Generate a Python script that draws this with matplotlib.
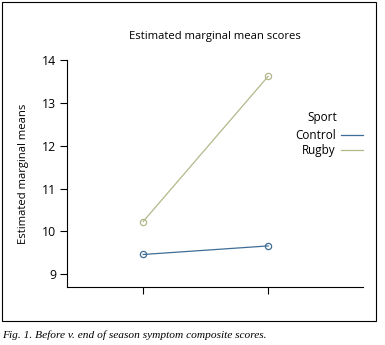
import matplotlib
matplotlib.use("Agg")
import matplotlib.pyplot as plt
from matplotlib.lines import Line2D
from matplotlib.patches import Rectangle

# data
time_points = [0, 1]  # before / end of season (no tick labels in the original)
control_means = [9.46, 9.66]
rugby_means = [10.23, 13.62]
groups = ["Control", "Rugby"]
colors = {"Control": "#3f6d97", "Rugby": "#b3b78a"}
y_ticks = [9, 10, 11, 12, 13, 14]

plt.rcParams["font.family"] = ["Open Sans", "DejaVu Sans"]

fig = plt.figure(figsize=(3.85, 3.45), dpi=100)
ax = fig.add_axes([0.174, 0.168, 0.769, 0.658])

series = {"Control": control_means, "Rugby": rugby_means}
for g in groups:
    ax.plot(time_points, series[g], color=colors[g], lw=0.9, marker="o",
            markersize=4.5, markerfacecolor="none", markeredgewidth=0.9)

ax.set_xlim(-0.61, 1.76)
ax.set_ylim(8.7, 14.0)
ax.set_yticks(y_ticks)
ax.set_xticks(time_points)
ax.set_xticklabels([])
ax.tick_params(axis="y", direction="out", length=5, width=0.8, labelsize=8.8, pad=3)
ax.tick_params(axis="x", direction="out", length=5, width=0.8)
for s in ["top", "right"]:
    ax.spines[s].set_visible(False)
for s in ["left", "bottom"]:
    ax.spines[s].set_linewidth(0.8)

ax.set_title("Estimated marginal mean scores", fontsize=8.1, pad=15)
ax.set_ylabel("Estimated marginal means", fontsize=8.1, labelpad=9)

handles = [Line2D([], [], color=colors[g], lw=0.9) for g in groups]
leg = ax.legend(handles, groups, loc="upper right", bbox_to_anchor=(1.0, 0.697),
                frameon=False, markerfirst=False, fontsize=8.5, handlelength=1.9,
                handletextpad=0.4, labelspacing=0.2, borderpad=0, borderaxespad=0)
ax.text(0.914, 0.745, "Sport", transform=ax.transAxes, ha="right", va="center",
        fontsize=8.5)

# outer frame around the chart
fig.patches.append(Rectangle((0.005, 0.07), 0.972, 0.924, transform=fig.transFigure,
                             fill=False, edgecolor="black", lw=0.8))

fig.text(0.005, 0.028, "Fig. 1. Before v. end of season symptom composite scores.",
         fontsize=8.2, family="Liberation Serif", style="italic", va="center")

fig.savefig("out.png", dpi=100)
